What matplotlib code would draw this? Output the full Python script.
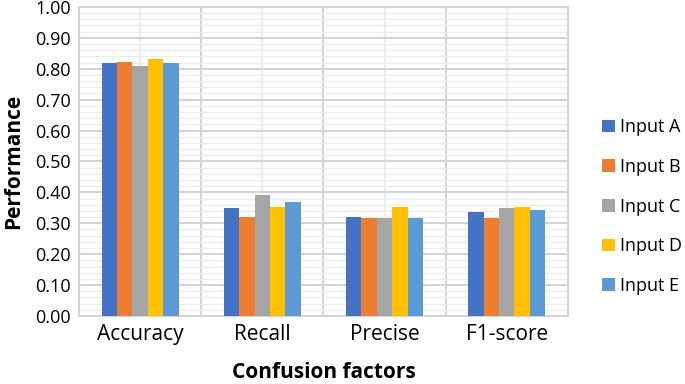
import numpy as np
import matplotlib
matplotlib.use("Agg")
import matplotlib.pyplot as plt
from matplotlib.ticker import MultipleLocator

plt.rcParams['font.family'] = ['Open Sans', 'DejaVu Sans']

# data
factors = ['Accuracy', 'Recall', 'Precise', 'F1-score']
inputs = ['Input A', 'Input B', 'Input C', 'Input D', 'Input E']
input_a = [0.820, 0.348, 0.319, 0.336]
input_b = [0.823, 0.319, 0.317, 0.317]
input_c = [0.810, 0.392, 0.317, 0.349]
input_d = [0.833, 0.352, 0.352, 0.352]
input_e = [0.818, 0.368, 0.317, 0.342]
series = [input_a, input_b, input_c, input_d, input_e]
colors = ['#4472C4', '#ED7D31', '#A5A5A5', '#FFC000', '#5B9BD5']

fig = plt.figure(figsize=(6.85, 3.84), dpi=100)
ax = fig.add_axes([0.1153, 0.177, 0.829 - 0.1153, 0.982 - 0.177])

x = np.arange(len(factors))
bw = 0.126
for i, vals in enumerate(series):
    ax.bar(x + (i - 2) * bw, vals, width=bw, color=colors[i], label=inputs[i], zorder=3)

ax.set_xlim(-0.5, len(factors) - 0.5)
ax.set_ylim(0, 1.0)

# y grid: major every 0.1, light minor every 0.02
ax.yaxis.set_major_locator(MultipleLocator(0.1))
ax.yaxis.set_minor_locator(MultipleLocator(0.02))
ax.yaxis.set_major_formatter(matplotlib.ticker.FormatStrFormatter('%.2f'))
ax.grid(axis='y', which='minor', color='#ECECEC', lw=1.0, zorder=0)
ax.grid(axis='y', which='major', color='#D4D4D4', lw=1.5, zorder=0)

# x: light lines at category centers, darker lines at boundaries
ax.set_xticks(x)
ax.set_xticklabels(factors)
for c in x:
    ax.axvline(c, color='#EDEDED', lw=1.5, zorder=1)
for b in x[:-1] + 0.5:
    ax.axvline(b, color='#D4D4D4', lw=1.5, zorder=1)

ax.tick_params(axis='both', which='both', length=0)
ax.tick_params(axis='y', labelsize=13, pad=6)
ax.tick_params(axis='x', labelsize=15, pad=6)
for s in ax.spines.values():
    s.set_color('#D4D4D4')
    s.set_linewidth(1.5)

ax.set_ylabel('Performance', fontsize=15, fontweight='bold', labelpad=8)
ax.set_xlabel('Confusion factors', fontsize=15, fontweight='bold', labelpad=12)

fig.legend(loc='center left', bbox_to_anchor=(0.855, 0.462), frameon=False,
           fontsize=13, handlelength=0.7, handleheight=0.7, handletextpad=0.3,
           labelspacing=1.2)

fig.savefig('out.png', dpi=100)
